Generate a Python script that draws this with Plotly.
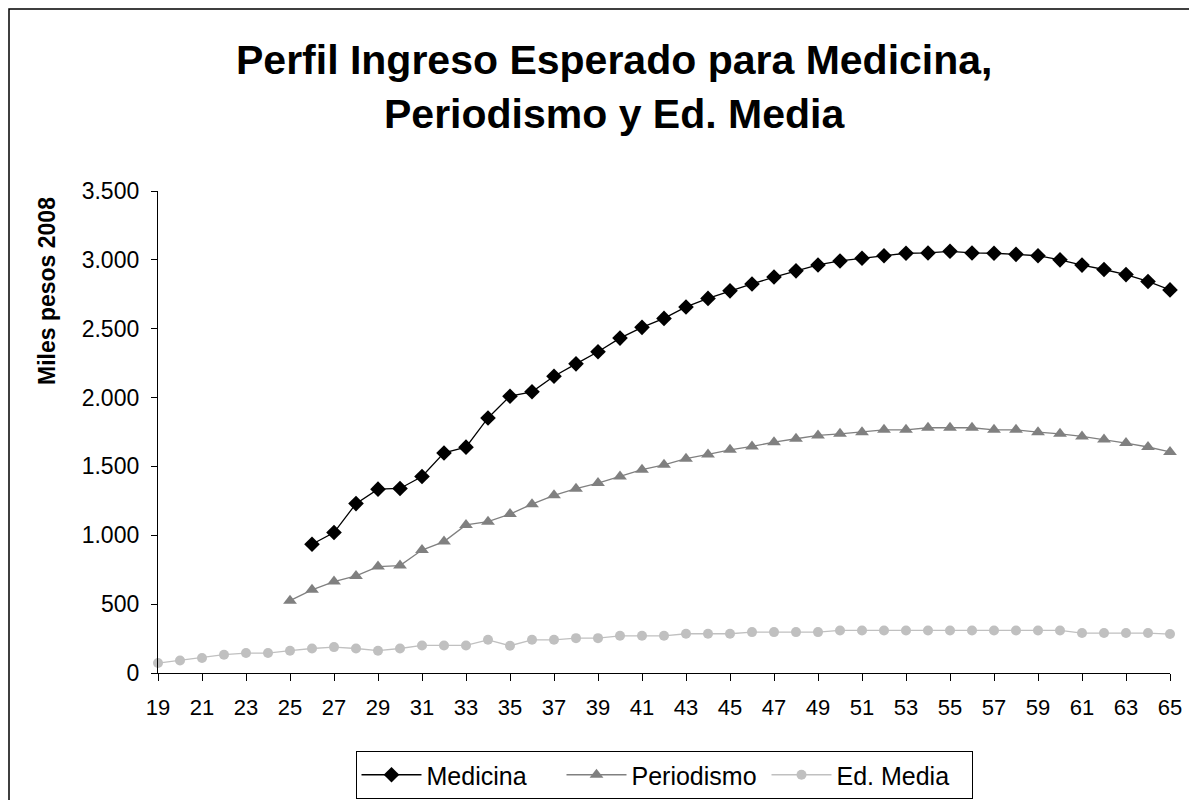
import plotly.graph_objects as go

ages = list(range(19, 66))

medicina = [None] * 7 + [
    935, 1020, 1230, 1335, 1340, 1427, 1598, 1640, 1852, 2010,
    2042, 2155, 2245, 2333, 2432, 2510, 2575, 2658, 2720, 2775,
    2825, 2875, 2920, 2963, 2992, 3012, 3030, 3048, 3050, 3062,
    3050, 3048, 3040, 3030, 3000, 2962, 2930, 2893, 2843, 2782,
]

periodismo = [None] * 6 + [
    525, 604, 664, 705, 773, 780, 893, 954, 1075, 1099,
    1154, 1226, 1290, 1338, 1379, 1427, 1476, 1512, 1556, 1587,
    1621, 1645, 1676, 1701, 1725, 1737, 1749, 1766, 1766, 1781,
    1781, 1781, 1766, 1766, 1749, 1737, 1718, 1696, 1670, 1641,
    1605,
]

ed_media = [
    72, 91, 109, 133, 145, 145, 162, 178, 188, 178,
    162, 178, 200, 200, 200, 241, 198, 241, 241, 253,
    253, 270, 270, 270, 285, 285, 285, 297, 297, 297,
    297, 309, 309, 309, 309, 309, 309, 309, 309, 309,
    309, 309, 290, 290, 290, 290, 283,
]

x_tick_vals = list(range(19, 66, 2))
y_tick_vals = [0, 500, 1000, 1500, 2000, 2500, 3000, 3500]

FONT = "Liberation Sans, Arial, sans-serif"

# page offset (browser body margin) and plot-area geometry in figure pixels
OFF = 8
L, T, W, H = 158 - OFF, 191 - OFF, 1012, 482
FIG_W, FIG_H = 1197, 800
R = FIG_W - L - W
B = FIG_H - T - H


def px(sx):
    return (sx - OFF - L) / W


def py(sy):
    return (T + H - (sy - OFF)) / H


fig = go.Figure()
fig.add_trace(go.Scatter(
    x=ages, y=medicina, name="Medicina", mode="lines+markers",
    line=dict(color="#000000", width=1.3),
    marker=dict(symbol="diamond", size=12, color="#000000"),
    cliponaxis=False,
))
fig.add_trace(go.Scatter(
    x=ages, y=periodismo, name="Periodismo", mode="lines+markers",
    line=dict(color="#808080", width=1.3),
    marker=dict(symbol="triangle-up", size=12, color="#808080"),
    cliponaxis=False,
))
fig.add_trace(go.Scatter(
    x=ages, y=ed_media, name="Ed. Media", mode="lines+markers",
    line=dict(color="#C0C0C0", width=1.3),
    marker=dict(symbol="circle", size=10, color="#C0C0C0"),
    cliponaxis=False,
))

fig.update_layout(
    width=FIG_W, height=FIG_H,
    margin=dict(l=L, r=R, t=T, b=B, autoexpand=False),
    paper_bgcolor="#FFFFFF", plot_bgcolor="#FFFFFF",
    font=dict(family=FONT, size=21, color="#000000"),
    separators=",.",
    showlegend=True,
    legend=dict(
        orientation="h", x=0.5, xanchor="center", y=py(751), yanchor="top",
        bordercolor="#000000", borderwidth=1, bgcolor="#FFFFFF",
        font=dict(family=FONT, size=25, color="#000000"),
        itemwidth=60, traceorder="normal",
        entrywidth=130, entrywidthmode="pixels",
    ),
    xaxis=dict(
        range=[19, 65], tickvals=x_tick_vals, showgrid=False, zeroline=False,
        showline=True, linecolor="#000000", linewidth=1.3,
        ticks="outside", ticklen=7, tickwidth=1.3, tickcolor="#000000",
        tickfont=dict(family=FONT, size=22), ticklabelstandoff=7,
    ),
    yaxis=dict(
        range=[0, 3500], tickvals=y_tick_vals, tickformat=",d",
        showgrid=False, zeroline=False,
        showline=True, linecolor="#000000", linewidth=1.3,
        ticks="outside", ticklen=6, tickwidth=1.3, tickcolor="#000000",
        tickfont=dict(family=FONT, size=23), ticklabelstandoff=7,
    ),
    annotations=[
        dict(text="<b>Perfil Ingreso Esperado para Medicina,</b>",
             xref="paper", yref="paper", x=px(614), y=py(60),
             xanchor="center", yanchor="middle", showarrow=False,
             font=dict(family=FONT, size=41, color="#000000")),
        dict(text="<b>Periodismo y Ed. Media</b>",
             xref="paper", yref="paper", x=px(614), y=py(114),
             xanchor="center", yanchor="middle", showarrow=False,
             font=dict(family=FONT, size=41, color="#000000")),
        dict(text="<b>Miles pesos 2008</b>",
             xref="paper", yref="paper", x=px(47), y=py(291),
             xanchor="center", yanchor="middle", showarrow=False, textangle=-90,
             font=dict(family=FONT, size=23, color="#000000")),
    ],
    shapes=[
        dict(type="rect", xref="paper", yref="paper",
             x0=px(OFF + 1), x1=px(1230),
             y0=py(840), y1=py(OFF + 1),
             line=dict(color="#000000", width=1.5), fillcolor="rgba(0,0,0,0)",
             layer="below"),
    ],
)

fig.write_html("out.html")
